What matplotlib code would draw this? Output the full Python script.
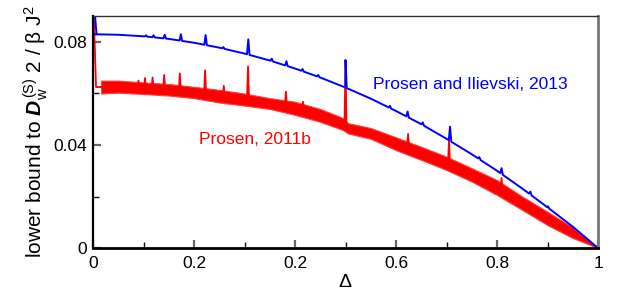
import numpy as np
import matplotlib
matplotlib.use("Agg")
import matplotlib.pyplot as plt

plt.rcParams['font.family'] = ['Liberation Sans', 'DejaVu Sans']
plt.rcParams['mathtext.fontset'] = 'custom'
plt.rcParams['mathtext.rm'] = 'Liberation Sans'
plt.rcParams['mathtext.it'] = 'Liberation Sans:italic'
plt.rcParams['mathtext.bf'] = 'Liberation Sans:bold'
plt.rcParams['mathtext.bfit'] = 'Liberation Sans:bold:italic'

# values
delta = [0.0, 0.05, 0.10, 0.15, 0.20, 0.25, 0.30, 0.35, 0.40, 0.45, 0.50,
         0.55, 0.60, 0.65, 0.70, 0.75, 0.80, 0.85, 0.90, 0.95, 1.0]
blue = [0.0830, 0.0828, 0.0822, 0.0812, 0.0797, 0.0778, 0.0755, 0.0728,
        0.0697, 0.0662, 0.0623, 0.0580, 0.0532, 0.0481, 0.0424, 0.0364,
        0.0300, 0.0231, 0.0158, 0.0083, 0.0]

red_delta = [0.016, 0.05, 0.10, 0.15, 0.20, 0.25, 0.30, 0.35, 0.40, 0.45,
             0.495, 0.505, 0.55, 0.60, 0.65, 0.70, 0.75, 0.80, 0.85, 0.90,
             0.95, 1.0]
red_hi = [0.0650, 0.0650, 0.0643, 0.0637, 0.0626, 0.0614, 0.0600, 0.0582,
          0.0568, 0.0540, 0.0505, 0.0485, 0.0466, 0.0430, 0.0393, 0.0355,
          0.0310, 0.0264, 0.0200, 0.0141, 0.0080, 0.0]
red_lo = [0.0600, 0.0603, 0.0598, 0.0592, 0.0582, 0.0565, 0.0553, 0.0540,
          0.0517, 0.0490, 0.0458, 0.0445, 0.0424, 0.0380, 0.0342, 0.0303,
          0.0258, 0.0206, 0.0148, 0.0089, 0.0039, 0.0]

# divergent start at delta = 0
blue_start_x = [0.0, 0.007]
blue_start_y = [0.10, 0.0830]
red_start_x = [0.0, 0.006, 0.016]
red_start_y = [0.10, 0.0625, 0.0625]

# resonance spikes
blue_spike_x = [0.105, 0.12, 0.142, 0.174, 0.223, 0.258, 0.3075, 0.354, 0.383,
                0.415, 0.446, 0.5, 0.588, 0.623, 0.653, 0.707, 0.765, 0.809,
                0.866, 0.901]
blue_spike_top = [0.0826, 0.0826, 0.0828, 0.0830, 0.0827, 0.0780, 0.0810,
                  0.0735, 0.0725, 0.0695, 0.0672, 0.0730, 0.0552, 0.0530,
                  0.0488, 0.0471, 0.0353, 0.0310, 0.0219, 0.0162]
red_spike_x = [0.09, 0.103, 0.118, 0.141, 0.172, 0.222, 0.259, 0.307, 0.382,
               0.416, 0.5, 0.624, 0.705, 0.809]
red_spike_top = [0.0650, 0.0660, 0.0662, 0.0672, 0.0678, 0.0690, 0.0630,
                 0.0705, 0.0607, 0.0568, 0.0720, 0.0443, 0.0420, 0.0272]

xtick_pos = [0, 0.2, 0.4, 0.6, 0.8, 1.0]
xtick_labels = ['0', '0.2', '0.2', '0.6', '0.8', '1']
ytick_pos = [0, 0.04, 0.08]
ytick_labels = ['0', '0.04', '0.08']


def with_spikes(x, y, sx, stop, w=0.0025):
    # insert narrow triangular spikes into a sampled curve
    px = list(x)
    py = list(y)
    for s, t in zip(sx, stop):
        for xx, yy in [(s - w, None), (s, t), (s + w, None)]:
            px.append(xx)
            py.append(np.interp(xx, x, y) if yy is None else yy)
    order = np.argsort(px, kind='stable')
    return np.array(px)[order], np.array(py)[order]


fig = plt.figure(figsize=(6.25, 3.01), dpi=100)
ax = fig.add_axes([0.1488, 0.176, 0.808, 0.771])

# red (Prosen 2011b)
ax.fill_between(red_delta, red_lo, red_hi, color='#ff0000', lw=0.8,
                edgecolor='#ff4040')
ax.plot(red_start_x, red_start_y, color='#ff0000', lw=1.3)
red_mid = (np.array(red_hi) + np.array(red_lo)) / 2
rx, ry = with_spikes(red_delta, red_mid, red_spike_x, red_spike_top, w=0.002)
ax.plot(rx, ry, color='#ff0000', lw=1.3)

# blue (Prosen and Ilievski 2013)
bx, by = with_spikes(delta, blue, blue_spike_x, blue_spike_top)
ax.plot(bx, by, color='#0000ff', lw=1.4)
ax.plot(blue_start_x, blue_start_y, color='#0000ff', lw=1.4)

ax.set_xlim(0, 1)
ax.set_ylim(0, 0.0901)
ax.set_xticks(xtick_pos)
ax.set_xticklabels(xtick_labels)
ax.set_xticks([0.1, 0.3, 0.5, 0.7, 0.9], minor=True)
ax.set_yticks(ytick_pos)
ax.set_yticklabels(ytick_labels)
ax.set_yticks([0.02, 0.06], minor=True)
ax.tick_params(which='major', direction='in', length=6, width=1.6,
               color='#666666', labelsize=12.5)
ax.tick_params(axis='x', which='major', pad=6)
ax.tick_params(axis='y', which='major', pad=4)
ax.tick_params(which='minor', direction='in', length=4, width=1.0,
               color='#111111')
ax.tick_params(axis='x', which='both', top=False)
ax.tick_params(axis='y', which='both', right=False)

ax.spines['left'].set_linewidth(1.6)
ax.spines['bottom'].set_linewidth(2.0)
ax.spines['top'].set_linewidth(1.0)
ax.spines['top'].set_color('#333333')
ax.spines['right'].set_linewidth(2.0)
ax.spines['right'].set_color('#777777')

ax.set_xlabel(r'$\Delta$', fontsize=14, labelpad=2)
ax.set_ylabel(r'lower bound to $\boldsymbol{D}_{\mathrm{w}}^{\,(\mathrm{S})}$ 2 / β J$^2$',
              fontsize=15, labelpad=3)

ax.text(0.555, 0.0635, 'Prosen and Ilievski, 2013', color='#0000ff',
        fontsize=12.5, va='center', ha='left')
ax.text(0.21, 0.0420, 'Prosen, 2011b', color='#ff0000', fontsize=12.5,
        va='center', ha='left')

fig.savefig('out.png', dpi=100)
